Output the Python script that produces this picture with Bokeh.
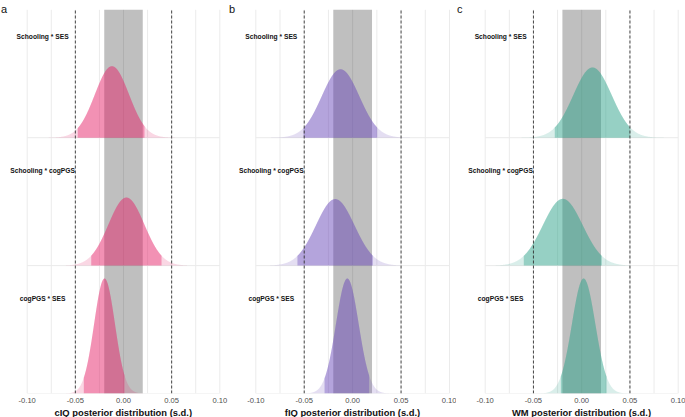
import numpy as np
from bokeh.plotting import figure
from bokeh.layouts import row
from bokeh.models import FixedTicker, Title
from bokeh.core.properties import value
from bokeh.embed import file_html
from bokeh.resources import INLINE

# ---------------- data ----------------
x_ticks = [-0.10, -0.05, 0.00, 0.05, 0.10]
x_tick_labels = ["-0.10", "-0.05", "0.00", "0.05", "0.10"]
x_minor = [-0.075, -0.025, 0.025, 0.075]
row_levels = [0, 1, 2]
terms = ["cogPGS * SES", "Schooling * cogPGS", "Schooling * SES"]  # rows bottom -> top
panel_letters = ["a", "b", "c"]
axis_titles = ["cIQ posterior distribution (s.d.)",
               "fIQ posterior distribution (s.d.)",
               "WM posterior distribution (s.d.)"]
colors = ["#E5246A", "#6A48B9", "#2DA189"]
rope = [-0.02, 0.02]
bounds = [-0.05, 0.05]

# posterior summaries (rows bottom -> top): mode, spread, interval, peak height (row units)
cIQ_mean = [-0.0197, 0.0030, -0.0120]
cIQ_sd = [0.0108, 0.0186, 0.0177]
cIQ_lo = [-0.0412, -0.0335, -0.0475]
cIQ_hi = [0.0010, 0.0395, 0.0218]
cIQ_peak = [0.899, 0.532, 0.559]

fIQ_mean = [-0.0055, -0.0180, -0.0125]
fIQ_sd = [0.0117, 0.0199, 0.0194]
fIQ_lo = [-0.0290, -0.0570, -0.0507]
fIQ_hi = [0.0170, 0.0208, 0.0253]
fIQ_peak = [0.899, 0.520, 0.535]

WM_mean = [0.0020, -0.0196, 0.0112]
WM_sd = [0.0121, 0.0206, 0.0199]
WM_lo = [-0.0216, -0.0600, -0.0279]
WM_hi = [0.0257, 0.0208, 0.0503]
WM_peak = [0.899, 0.522, 0.549]

means = [cIQ_mean, fIQ_mean, WM_mean]
sds = [cIQ_sd, fIQ_sd, WM_sd]
los = [cIQ_lo, fIQ_lo, WM_lo]
his = [cIQ_hi, fIQ_hi, WM_hi]
peaks = [cIQ_peak, fIQ_peak, WM_peak]

# ---------------- layout (pixels) ----------------
FONT = "Liberation Sans"
H = 417
canvas_w = [228, 228, 229]
left_px = [26.7, 27.3, 28.7]     # canvas px from figure's left edge to x=-0.10
right_px = [8.7, 7.0, 7.3]       # canvas px from x=0.10 to figure's right edge
TOP_PX = 9.3                     # canvas px above y=3 (top of the panels)
FRAME_BOTTOM = 393.0
label_off = [0.74, 0.743, 0.79]
label_x = -0.084
TITLE_SIZE = 9.4

# approximate bold glyph advance widths (em/1000) for centring the axis titles
_BOLD_W = {" ": 278, "(": 333, ")": 333, ".": 278, "I": 278, "M": 833, "Q": 778,
           "W": 944, "b": 611, "c": 556, "d": 611, "e": 556, "f": 333, "i": 278,
           "n": 611, "o": 611, "p": 611, "r": 389, "s": 556, "t": 333, "u": 611}


def text_width(s, size):
    return sum(_BOLD_W.get(ch, 556) for ch in s) / 1000.0 * size


ppy = (FRAME_BOTTOM - TOP_PX) / 3.0
y_top = 3.0 + TOP_PX / ppy

figs = []
for k in range(3):
    W = canvas_w[k]
    ppu = (W - left_px[k] - right_px[k]) / 0.2
    x0 = -0.1 - left_px[k] / ppu
    x1 = 0.1 + right_px[k] / ppu
    p = figure(width=W, height=H, x_range=(x0, x1), y_range=(0, y_top),
               output_backend="svg", toolbar_location=None, y_axis_location=None,
               min_border_left=0, min_border_right=0, min_border_top=0,
               min_border_bottom=int(H - FRAME_BOTTOM))
    p.outline_line_color = None
    p.background_fill_color = "white"
    p.border_fill_color = "white"
    p.grid.visible = False

    ax = p.xaxis[0]
    ax.ticker = FixedTicker(ticks=x_ticks)
    ax.major_label_overrides = {t: l for t, l in zip(x_ticks, x_tick_labels)}
    ax.axis_line_color = None
    ax.major_tick_line_color = None
    ax.minor_tick_line_color = None
    ax.major_tick_in = 0
    ax.major_tick_out = 0
    ax.major_label_standoff = 4
    ax.major_label_text_font = FONT
    ax.major_label_text_font_size = "7.6px"
    ax.major_label_text_color = "#4D4D4D"

    zero_px = left_px[k] + 0.1 * ppu
    t_left = zero_px - text_width(axis_titles[k], TITLE_SIZE) / 2.0
    t = Title(text=axis_titles[k], align="left", offset=t_left,
              text_font=FONT, text_font_size=f"{TITLE_SIZE}px", text_font_style="bold",
              text_color="#111111", standoff=-2)
    p.add_layout(t, "below")

    # grid lines within the panel area
    gx = x_ticks + x_minor
    p.segment(x0=gx, y0=[0] * len(gx), x1=gx, y1=[3] * len(gx),
              line_color="#EBEBEB", line_width=1)
    p.segment(x0=[-0.1] * 3, y0=row_levels, x1=[0.1] * 3, y1=row_levels,
              line_color="#EBEBEB", line_width=1)

    # ROPE band
    p.quad(left=[rope[0]], right=[rope[1]], bottom=[0], top=[3],
           fill_color="black", fill_alpha=0.25, line_color=None)

    xs = np.linspace(-0.1, 0.1, 801)
    for r in range(3):
        m, s, pk = means[k][r], sds[k][r], peaks[k][r]
        d = pk * np.exp(-0.5 * ((xs - m) / s) ** 2)
        p.varea(x=xs, y1=np.full_like(xs, row_levels[r]), y2=row_levels[r] + d,
                fill_color=colors[k], fill_alpha=0.18)
        xi = np.linspace(los[k][r], his[k][r], 400)
        di = pk * np.exp(-0.5 * ((xi - m) / s) ** 2)
        p.varea(x=xi, y1=np.full_like(xi, row_levels[r]), y2=row_levels[r] + di,
                fill_color=colors[k], fill_alpha=0.39)

    p.text(x=[label_x] * 3, y=[row_levels[r] + label_off[r] for r in range(3)],
           text=terms, text_align="center", text_baseline="middle",
           text_font=value(FONT), text_font_size="6.7px",
           text_font_style="bold", text_color="#111111")

    p.segment(x0=bounds, y0=[0, 0], x1=bounds, y1=[3, 3], line_color="#333333",
              line_width=0.9, line_dash="3 2")

    # panel letter at the top-left corner of the figure
    p.text(x=[x0 + 0.5 / ppu], y=[3.0 + (TOP_PX - 8.3) / ppy], text=[panel_letters[k]],
           text_align="left", text_baseline="alphabetic", text_font=value(FONT),
           text_font_size="11px", text_color="#111111")
    figs.append(p)

layout = row(*figs)
open("out.html", "w").write(file_html(layout, INLINE))
